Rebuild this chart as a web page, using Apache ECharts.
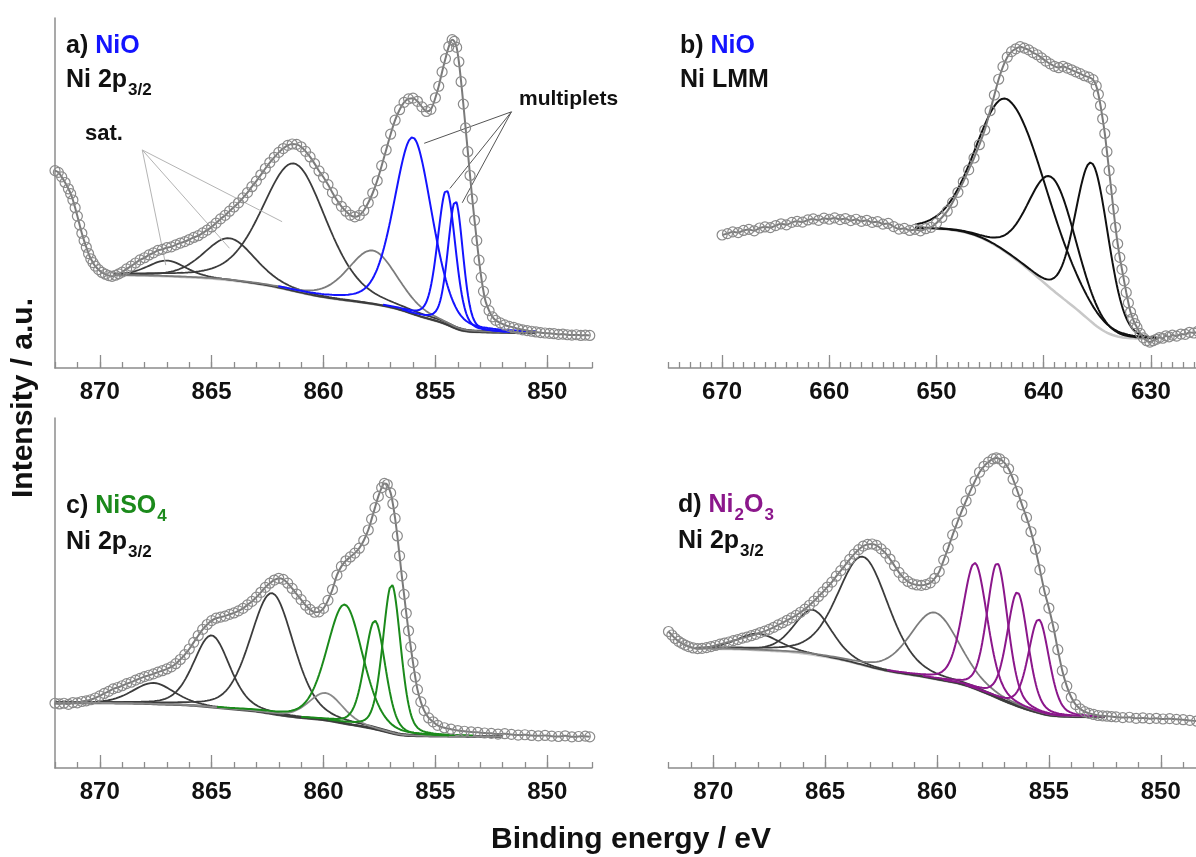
<!DOCTYPE html>
<html>
<head>
<meta charset="utf-8">
<script src="https://cdn.jsdelivr.net/npm/echarts@6/dist/echarts.min.js"></script>
<style>
  html, body { margin: 0; padding: 0; background: #fff; }
  #chart { width: 1196px; height: 857px; }
</style>
</head>
<body>
<div id="chart"></div>
<script>
// ---------- measured spectra: [binding energy (eV), intensity (a.u.)] ----------
const niO2pData = [
  [872.0,56.4],[871.85,55.9],[871.7,54.6],[871.55,53.0],[871.4,51.2],[871.3,49.8],[871.2,48.0],[871.1,45.8],
  [871.0,43.4],[870.9,40.9],[870.8,38.5],[870.7,36.4],[870.6,34.5],[870.5,32.7],[870.4,31.2],[870.3,30.1],
  [870.2,29.1],[870.05,28.1],[869.9,27.3],[869.75,26.8],[869.6,26.4],[869.45,26.2],[869.3,26.5],[869.15,26.9],
  [869.0,27.4],[868.8,28.3],[868.6,29.1],[868.4,30.0],[868.2,30.9],[868.0,31.5],[867.8,32.3],[867.6,32.9],
  [867.4,33.6],[867.2,33.9],[867.0,34.4],[866.8,34.6],[866.6,35.2],[866.4,35.7],[866.2,36.1],[866.0,36.7],
  [865.8,37.3],[865.6,37.8],[865.4,38.6],[865.2,39.4],[865.0,40.3],[864.8,41.4],[864.6,42.6],[864.4,43.6],
  [864.2,44.8],[864.0,46.0],[863.8,47.2],[863.6,48.6],[863.4,50.1],[863.2,51.8],[863.0,53.4],[862.8,55.2],
  [862.6,57.0],[862.4,58.7],[862.2,60.2],[862.0,61.6],[861.8,62.7],[861.6,63.6],[861.4,64.0],[861.2,63.9],
  [861.0,63.2],[860.8,61.9],[860.6,60.3],[860.4,58.4],[860.2,56.3],[860.0,54.5],[859.8,52.4],[859.6,50.1],
  [859.4,48.0],[859.2,46.2],[859.0,44.8],[858.8,43.7],[858.6,43.2],[858.4,43.6],[858.2,45.0],[858.0,47.2],
  [857.8,50.0],[857.6,53.5],[857.4,57.8],[857.2,62.3],[857.0,66.8],[856.8,70.8],[856.6,73.8],[856.4,75.9],
  [856.2,76.9],[856.0,77.1],[855.8,76.2],[855.6,74.6],[855.4,73.3],[855.2,73.9],[855.0,77.2],[854.85,80.5],
  [854.7,84.6],[854.55,88.4],[854.4,91.8],[854.25,93.8],[854.15,93.3],[854.05,91.6],[853.95,87.5],[853.85,81.8],
  [853.75,75.4],[853.65,68.6],[853.55,61.8],[853.45,55.0],[853.35,48.3],[853.25,42.2],[853.15,36.4],[853.05,30.8],
  [852.95,25.9],[852.85,21.9],[852.75,18.9],[852.6,16.4],[852.45,14.6],[852.3,13.6],[852.1,12.9],[851.9,12.3],
  [851.7,11.9],[851.5,11.6],[851.3,11.2],[851.1,10.9],[850.9,10.7],[850.7,10.5],[850.5,10.3],[850.3,10.1],
  [850.1,10.0],[849.9,9.9],[849.7,9.8],[849.5,9.6],[849.3,9.7],[849.1,9.5],[848.9,9.4],[848.7,9.5],
  [848.5,9.3],[848.3,9.4],[848.1,9.3]
];
const niOLmmData = [
  [670.0,38.0],[669.5,38.4],[669.0,38.9],[668.5,38.7],[668.0,39.3],[667.5,39.6],[667.0,39.2],[666.5,40.0],
  [666.0,40.3],[665.5,40.1],[665.0,40.7],[664.5,41.2],[664.0,40.9],[663.5,41.6],[663.0,41.9],[662.5,41.7],
  [662.0,42.3],[661.5,42.6],[661.0,42.2],[660.5,42.8],[660.0,42.5],[659.5,42.9],[659.0,42.4],[658.5,42.7],
  [658.0,42.1],[657.5,42.5],[657.0,41.9],[656.5,42.2],[656.0,41.6],[655.5,41.8],[655.0,41.1],[654.5,41.3],
  [654.0,40.4],[653.5,39.7],[653.0,39.9],[652.5,39.3],[652.0,39.6],[651.5,39.2],[651.0,39.8],[650.5,40.2],
  [650.0,41.4],[649.5,43.0],[649.0,44.8],[648.5,47.3],[648.0,50.2],[647.5,53.2],[647.0,56.6],[646.5,60.0],
  [646.0,63.8],[645.5,68.0],[645.0,73.5],[644.6,78.0],[644.2,82.5],[643.8,86.1],[643.4,88.8],[643.0,90.4],
  [642.6,91.2],[642.2,91.8],[641.8,91.4],[641.4,90.9],[641.0,90.1],[640.6,89.5],[640.2,88.6],[639.8,87.7],
  [639.4,86.9],[639.0,86.2],[638.6,85.8],[638.2,86.2],[637.8,85.7],[637.4,85.2],[637.0,84.6],[636.6,84.1],
  [636.2,83.5],[635.8,83.1],[635.4,82.4],[635.1,80.6],[634.9,78.2],[634.7,75.0],[634.5,71.2],[634.3,67.0],
  [634.1,61.8],[633.9,56.4],[633.7,51.0],[633.5,45.4],[633.3,40.2],[633.1,35.5],[632.9,31.6],[632.7,28.2],
  [632.5,24.9],[632.3,21.6],[632.1,18.6],[631.9,16.0],[631.7,14.2],[631.5,12.7],[631.3,11.6],[631.0,9.9],
  [630.7,8.6],[630.4,7.8],[630.1,7.4],[629.8,7.8],[629.5,8.2],[629.2,8.7],[628.9,8.5],[628.6,9.2],
  [628.3,8.9],[628.0,9.4],[627.6,9.1],[627.2,9.7],[626.8,9.6],[626.4,10.2],[626.0,10.0],[625.6,10.5]
];
const niSO4Data = [
  [872.0,18.5],[871.8,18.3],[871.6,18.5],[871.4,18.2],[871.2,18.7],[871.0,18.6],[870.8,19.0],[870.6,19.2],
  [870.4,19.5],[870.2,20.0],[870.0,20.6],[869.8,21.3],[869.6,21.9],[869.4,22.6],[869.2,23.0],[869.0,23.5],
  [868.8,24.1],[868.6,24.5],[868.4,25.1],[868.2,25.6],[868.0,26.1],[867.8,26.5],[867.6,26.9],[867.4,27.4],
  [867.2,27.8],[867.0,28.3],[866.8,28.9],[866.6,29.8],[866.4,31.0],[866.2,32.4],[866.0,34.0],[865.8,35.9],
  [865.6,37.8],[865.4,39.6],[865.2,41.0],[865.0,42.1],[864.8,42.8],[864.6,43.1],[864.4,43.4],[864.2,43.9],
  [864.0,44.3],[863.8,44.9],[863.6,45.6],[863.4,46.6],[863.2,47.6],[863.0,48.8],[862.8,50.2],[862.6,51.6],
  [862.4,52.8],[862.2,53.7],[862.0,54.2],[861.8,53.9],[861.6,52.8],[861.4,51.3],[861.2,49.7],[861.0,48.1],
  [860.8,46.5],[860.6,45.3],[860.4,44.5],[860.2,44.6],[860.0,45.6],[859.8,47.9],[859.6,51.0],[859.4,55.1],
  [859.2,57.6],[859.0,59.2],[858.8,60.3],[858.6,61.4],[858.4,62.8],[858.2,65.0],[858.0,68.0],[857.85,71.1],
  [857.7,74.4],[857.55,77.6],[857.4,80.1],[857.28,81.3],[857.15,81.0],[857.0,78.6],[856.9,75.5],[856.8,71.3],
  [856.7,66.3],[856.6,60.6],[856.5,54.9],[856.4,49.6],[856.3,44.2],[856.2,39.2],[856.1,34.6],[856.0,30.1],
  [855.9,26.0],[855.8,22.4],[855.65,18.9],[855.5,16.4],[855.3,14.3],[855.1,13.2],[854.9,12.2],[854.6,11.5],
  [854.3,11.1],[854.0,10.7],[853.7,10.5],[853.4,10.3],[853.1,10.2],[852.8,10.0],[852.5,9.9],[852.2,9.7],
  [851.9,9.8],[851.6,9.6],[851.3,9.4],[851.0,9.5],[850.7,9.3],[850.4,9.2],[850.1,9.3],[849.8,9.1],
  [849.5,9.0],[849.2,9.2],[848.9,8.9],[848.6,9.0],[848.3,9.1],[848.1,8.9]
];
const ni2O3Data = [
  [872.0,39.0],[871.85,38.0],[871.7,37.0],[871.55,36.2],[871.4,35.6],[871.25,35.1],[871.1,34.7],[870.9,34.3],
  [870.7,34.1],[870.5,34.2],[870.3,34.4],[870.1,34.7],[869.9,35.0],[869.7,35.4],[869.5,35.7],[869.3,36.0],
  [869.1,36.4],[868.9,36.7],[868.7,37.1],[868.5,37.4],[868.3,37.8],[868.1,38.2],[867.9,38.7],[867.7,39.1],
  [867.5,39.6],[867.3,40.2],[867.1,40.9],[866.9,41.5],[866.7,42.2],[866.5,42.9],[866.3,43.6],[866.1,44.5],
  [865.9,45.4],[865.7,46.5],[865.5,47.7],[865.3,49.0],[865.1,50.3],[864.9,51.7],[864.7,53.1],[864.5,54.8],
  [864.3,56.4],[864.1,58.0],[863.9,59.6],[863.7,61.1],[863.5,62.4],[863.3,63.4],[863.1,63.9],[862.9,64.0],
  [862.7,63.6],[862.5,62.6],[862.3,61.4],[862.1,59.7],[861.9,57.8],[861.7,55.9],[861.5,54.4],[861.3,53.3],
  [861.1,52.6],[860.9,52.3],[860.7,52.2],[860.5,52.4],[860.3,52.9],[860.1,54.2],[859.9,56.1],[859.7,59.4],
  [859.5,62.9],[859.3,66.6],[859.1,70.0],[858.9,73.3],[858.7,76.3],[858.5,79.3],[858.3,82.0],[858.1,84.5],
  [857.9,86.2],[857.7,87.4],[857.5,88.3],[857.35,88.6],[857.2,88.3],[857.0,87.3],[856.8,85.5],[856.6,82.5],
  [856.4,79.0],[856.2,75.2],[856.0,71.6],[855.8,67.5],[855.6,62.5],[855.4,56.6],[855.2,50.6],[855.0,45.7],
  [854.8,40.3],[854.6,33.8],[854.4,27.8],[854.2,23.4],[854.0,20.2],[853.8,18.1],[853.6,16.9],[853.4,16.1],
  [853.2,15.6],[853.0,15.3],[852.8,15.0],[852.6,14.9],[852.4,14.8],[852.2,14.7],[852.0,14.6],[851.7,14.4],
  [851.4,14.5],[851.1,14.2],[850.8,14.3],[850.5,14.1],[850.2,14.2],[849.9,14.0],[849.6,14.1],[849.3,13.9],
  [849.0,13.8],[848.7,13.6],[848.4,13.4],[848.1,13.3]
];

// ---------- fitted components: [position (eV), height above background, FWHM (eV)
//            (, FWHM used on the high binding-energy side if the peak is asymmetric)] ----------
const niO2pSat        = [[867.0, 4.5, 2.0], [864.2, 12.0, 2.7], [861.3, 36.5, 3.4]];
const niO2pMid        = [[857.8, 15.3, 2.6]];
const niO2pMultiplets = [[856.0, 50.5, 2.0], [854.5, 38.5, 0.95], [854.1, 36.5, 0.8]];
const niO2pBgRange    = [850.5, 869.4];
const niO2pBgLevels   = [10.0, 26.5];

const niOLmmPeaks     = [[643.3, 44.0, 8.6, 6.8], [639.2, 32.0, 5.2], [635.5, 45.5, 3.6]];
const niOLmmBgRange   = [629.5, 652.0];
const niOLmmBgLevels  = [8.3, 40.0];

const niSO4Sat        = [[867.6, 6.0, 2.2], [865.0, 20.5, 1.9], [862.3, 34.5, 2.3]];
const niSO4Mid        = [[859.9, 7.8, 1.8]];
const niSO4Multiplets = [[859.05, 34.0, 1.9], [857.7, 31.0, 1.1], [856.95, 42.5, 0.95]];
const niSO4BgRange    = [852.0, 872.0];
const niSO4BgLevels   = [9.0, 18.6];

const ni2O3Sat        = [[868.0, 4.7, 2.2], [865.55, 12.8, 2.0], [863.3, 31.0, 2.7]];
const ni2O3Mid        = [[860.1, 19.0, 2.6]];
const ni2O3Multiplets = [[858.3, 36.0, 1.3], [857.3, 38.6, 1.1], [856.4, 32.6, 1.1], [855.45, 26.8, 1.1]];
const ni2O3BgRange    = [852.5, 870.8];
const ni2O3BgLevels   = [14.5, 34.1];

// ---------- axis ticks ----------
const ticks2p  = [850, 855, 860, 865, 870];
const ticksLmm = [630, 640, 650, 660, 670];

// ---------- annotation leaders (data coordinates of panel a) ----------
const satLeaderFrom  = [868.1, 62.3];
const satLeaderTo    = [[867.05, 29.4], [864.2, 34.2], [861.85, 41.8]];
const multLeaderFrom = [851.6, 73.2];
const multLeaderTo   = [[855.5, 64.2], [854.35, 51.3], [853.8, 47.2]];

const FONT = '"Liberation Sans", Arial, Helvetica, sans-serif';
const BLUE = '#1414ff', GREEN = '#1b8a1b', PURPLE = '#8b178b';

// Gaussian-Lorentzian (pseudo-Voigt) line shape
function lineShape(E, peak, mix) {
  const w = (E > peak[0] && peak.length > 3) ? peak[3] : peak[2];
  const t = (E - peak[0]) / w;
  const g = Math.exp(-4 * Math.LN2 * t * t);
  const l = 1 / (1 + 4 * t * t);
  return peak[1] * ((1 - mix) * g + mix * l);
}

// Shirley-type background built from the fitted components, and each component on top of it.
// Groups listed in `trimmed` are only drawn where they rise visibly above the background.
function buildFit(groups, range, levels, step, mix, trimmed) {
  const all = groups.flat();
  const n = Math.round((range[1] - range[0]) / step);
  const xs = [];
  for (let i = 0; i <= n; i++) xs.push(+(range[0] + i * step).toFixed(3));
  const sum = xs.map(E => all.reduce((s, p) => s + lineShape(E, p, mix), 0));
  const cum = [0];
  for (let i = 1; i <= n; i++) cum.push(cum[i - 1] + (sum[i] + sum[i - 1]) / 2 * step);
  const total = cum[n];
  const bg = cum.map(c => levels[0] + (levels[1] - levels[0]) * c / total);
  return {
    bg: xs.map((E, i) => [E, bg[i]]),
    comps: groups.map((g, gi) => g.map(p => {
      const pts = [];
      xs.forEach((E, i) => {
        const v = lineShape(E, p, mix);
        if (trimmed.indexOf(gi) < 0 || v > 0.008 * p[1]) pts.push([E, bg[i] + v]);
      });
      return pts;
    }))
  };
}

function curve(data, gi, color, width, z) {
  return {
    type: 'line', xAxisIndex: 2 * gi, yAxisIndex: gi, data: data,
    symbol: 'none', showSymbol: false, silent: true, animation: false, z: z,
    lineStyle: { color: color, width: width }
  };
}

function measured(data, gi) {
  return {
    type: 'line', xAxisIndex: 2 * gi, yAxisIndex: gi, data: data,
    symbol: 'circle', symbolSize: 10, showAllSymbol: true, smooth: 0.3,
    silent: true, animation: false, z: 10,
    lineStyle: { color: '#7a7a7a', width: 2 },
    itemStyle: { color: 'rgba(255,255,255,0)', borderColor: '#8a8a8a', borderWidth: 1.2 }
  };
}

function xAxes(gi, min, max, majors, step) {
  const axisColor = '#8c8c8c';
  return [
    {
      type: 'value', gridIndex: gi, min: min, max: max, inverse: true, interval: step, position: 'bottom',
      axisLine: { show: true, onZero: false, lineStyle: { color: axisColor, width: 1.5 } },
      axisTick: { show: true, inside: true, length: 6, lineStyle: { color: axisColor, width: 1.3 } },
      axisLabel: {
        show: true, margin: 12, fontSize: 24, fontWeight: 'bold', fontFamily: FONT, color: '#111',
        formatter: v => {
          const r = Math.round(v);
          return (Math.abs(v - r) < 1e-6 && majors.indexOf(r) >= 0) ? String(r) : '';
        }
      },
      splitLine: { show: false }
    },
    {
      type: 'value', gridIndex: gi, min: min, max: max, inverse: true, position: 'bottom',
      axisLine: { show: false, onZero: false },
      axisTick: { show: true, inside: true, length: 13, customValues: majors,
                  lineStyle: { color: axisColor, width: 1.3 } },
      axisLabel: { show: false },
      splitLine: { show: false }
    }
  ];
}

function yAxis(gi, showLine) {
  return {
    type: 'value', gridIndex: gi, min: 0, max: 100,
    axisLine: { show: showLine, lineStyle: { color: '#8c8c8c', width: 1.5 } },
    axisTick: { show: false }, axisLabel: { show: false }, splitLine: { show: false }
  };
}

const series = [];

// panel a: NiO Ni 2p3/2
(function () {
  const fit = buildFit([niO2pSat, niO2pMid, niO2pMultiplets], niO2pBgRange, niO2pBgLevels, 0.04, 0.3, [2]);
  series.push(curve(fit.bg, 0, '#c8c8c8', 2.5, 1));
  fit.comps[0].forEach(c => series.push(curve(c, 0, '#3c3c3c', 1.8, 2)));
  fit.comps[1].forEach(c => series.push(curve(c, 0, '#7c7c7c', 1.8, 2)));
  fit.comps[2].forEach(c => series.push(curve(c, 0, BLUE, 2, 3)));
  satLeaderTo.forEach(p => series.push(curve([satLeaderFrom, p], 0, '#b4b4b4', 1, 4)));
  multLeaderTo.forEach(p => series.push(curve([multLeaderFrom, p], 0, '#555555', 1, 4)));
  series.push(measured(niO2pData, 0));
})();

// panel b: NiO Ni LMM
(function () {
  const fit = buildFit([niOLmmPeaks], niOLmmBgRange, niOLmmBgLevels, 0.08, 0.1, []);
  series.push(curve(fit.bg, 1, '#c8c8c8', 2.5, 1));
  fit.comps[0].forEach(c => series.push(curve(c, 1, '#111111', 2, 2)));
  series.push(measured(niOLmmData, 1));
})();

// panel c: NiSO4 Ni 2p3/2
(function () {
  const fit = buildFit([niSO4Sat, niSO4Mid, niSO4Multiplets], niSO4BgRange, niSO4BgLevels, 0.04, 0.3, [2]);
  series.push(curve(fit.bg, 2, '#555555', 2.5, 1));
  fit.comps[0].forEach(c => series.push(curve(c, 2, '#3c3c3c', 1.8, 2)));
  fit.comps[1].forEach(c => series.push(curve(c, 2, '#8a8a8a', 1.8, 2)));
  fit.comps[2].forEach(c => series.push(curve(c, 2, GREEN, 2, 3)));
  series.push(measured(niSO4Data, 2));
})();

// panel d: Ni2O3 Ni 2p3/2
(function () {
  const fit = buildFit([ni2O3Sat, ni2O3Mid, ni2O3Multiplets], ni2O3BgRange, ni2O3BgLevels, 0.04, 0.3, [2]);
  series.push(curve(fit.bg, 3, '#c8c8c8', 2.5, 1));
  fit.comps[0].forEach(c => series.push(curve(c, 3, '#3c3c3c', 1.8, 2)));
  fit.comps[1].forEach(c => series.push(curve(c, 3, '#7c7c7c', 1.8, 2)));
  fit.comps[2].forEach(c => series.push(curve(c, 3, PURPLE, 2, 3)));
  series.push(measured(ni2O3Data, 3));
})();

// rich-text styles for panel captions (with subscripts)
function richStyles(color) {
  const base = { fontFamily: FONT, fontWeight: 'bold', verticalAlign: 'top' };
  return {
    k:  Object.assign({}, base, { fontSize: 25, lineHeight: 26, fill: '#111' }),
    c:  Object.assign({}, base, { fontSize: 25, lineHeight: 26, fill: color }),
    ks: Object.assign({}, base, { fontSize: 17, lineHeight: 18, fill: '#111', padding: [14, 0, 0, 1] }),
    cs: Object.assign({}, base, { fontSize: 17, lineHeight: 18, fill: color, padding: [14, 0, 0, 1] })
  };
}
function caption(x, y, text, color) {
  return {
    type: 'text', x: x, y: y, silent: true,
    style: { text: text, rich: richStyles(color), fill: '#111', align: 'left', verticalAlign: 'top' }
  };
}

const graphics = [
  caption(66, 34, '{k|a) }{c|NiO}', BLUE),
  caption(66, 68, '{k|Ni 2p}{ks|3/2}', BLUE),
  caption(680, 34, '{k|b) }{c|NiO}', BLUE),
  caption(680, 68, '{k|Ni LMM}', BLUE),
  caption(66, 494, '{k|c) }{c|NiSO}{cs|4}', GREEN),
  caption(66, 530, '{k|Ni 2p}{ks|3/2}', GREEN),
  caption(678, 493, '{k|d) }{c|Ni}{cs|2}{c|O}{cs|3}', PURPLE),
  caption(678, 529, '{k|Ni 2p}{ks|3/2}', PURPLE),
  {
    type: 'text', x: 85, y: 134, silent: true,
    style: { text: 'sat.', font: 'bold 22px ' + FONT, fill: '#111', align: 'left', verticalAlign: 'middle' }
  },
  {
    type: 'text', x: 519, y: 99, silent: true,
    style: { text: 'multiplets', font: 'bold 21px ' + FONT, fill: '#111', align: 'left', verticalAlign: 'middle' }
  },
  {
    type: 'text', x: 24, y: 398, rotation: Math.PI / 2, silent: true,
    style: { text: 'Intensity / a.u.', font: 'bold 30px ' + FONT, fill: '#111', align: 'center', verticalAlign: 'middle' }
  },
  {
    type: 'text', x: 631, y: 840, silent: true,
    style: { text: 'Binding energy / eV', font: 'bold 30px ' + FONT, fill: '#111', align: 'center', verticalAlign: 'middle' }
  }
];

const chart = echarts.init(document.getElementById('chart'), null, { renderer: 'canvas' });
chart.setOption({
  backgroundColor: '#ffffff',
  animation: false,
  grid: [
    { left: 55,    top: 18,  width: 537, height: 350, outerBoundsMode: 'none' },
    { left: 668.5, top: 18,  width: 536, height: 350, outerBoundsMode: 'none' },
    { left: 55,    top: 418, width: 537, height: 350, outerBoundsMode: 'none' },
    { left: 668.5, top: 418, width: 537, height: 350, outerBoundsMode: 'none' }
  ],
  xAxis: [].concat(
    xAxes(0, 848, 872, ticks2p, 1),
    xAxes(1, 625, 675, ticksLmm, 1),
    xAxes(2, 848, 872, ticks2p, 1),
    xAxes(3, 848, 872, ticks2p, 1)
  ),
  yAxis: [yAxis(0, true), yAxis(1, false), yAxis(2, true), yAxis(3, false)],
  series: series,
  graphic: graphics
});
</script>
</body>
</html>
